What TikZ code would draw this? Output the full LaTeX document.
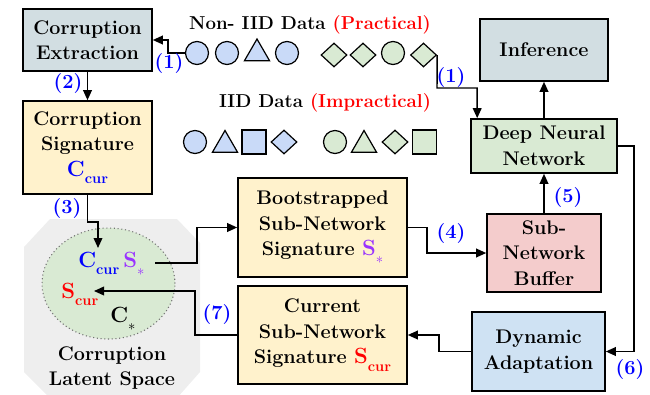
\documentclass[tikz,border=0pt]{standalone}
\usepackage{fontspec}
\usetikzlibrary{arrows.meta,shapes.geometric,calc}
\definecolor{extc}{HTML}{D2DEE2}
\definecolor{yel}{HTML}{FFF2CC}
\definecolor{grn}{HTML}{D9EAD3}
\definecolor{pinkc}{HTML}{F4CCCC}
\definecolor{bluec}{HTML}{CFE2F3}
\definecolor{shb}{HTML}{C9DAF8}
\definecolor{latc}{HTML}{EEEEEE}
\definecolor{lblue}{HTML}{0000FF}
\definecolor{purp}{HTML}{9933FF}
\definecolor{redc}{HTML}{FF0000}
\newcommand{\symsub}[3]{{\color{#3}\fontsize{16.5}{17}\selectfont #1\raisebox{-5.5pt}{\fontsize{11}{11}\selectfont #2}}}
\newcommand{\sstar}{\raisebox{-0.5pt}{\fontsize{11}{11}\selectfont$\ast$}}
\begin{document}
\begin{tikzpicture}[x=0.75pt,y=-0.75pt,
  box/.style={draw, line width=1.2pt, align=center, inner sep=0pt, font=\fontsize{14.8}{19.2}\selectfont\bfseries},
  sz/.style 2 args={minimum width=#1*0.75pt, minimum height=#2*0.75pt},
  arr/.style={draw, line width=1.1pt, -{Triangle[length=7.5pt,width=6.5pt]}},
  lab/.style={text=lblue, font=\fontsize{15}{15}\selectfont\bfseries, inner sep=0pt},
  ttl/.style={font=\fontsize{14}{19}\selectfont\bfseries, inner sep=0pt},
  shp/.style={draw, line width=0.9pt, inner sep=0pt},
  cir/.style={shp, circle, minimum size=23*0.75pt},
  tri/.style={shp, regular polygon, regular polygon sides=3, minimum size=29*0.75pt},
  dia/.style={shp, diamond, minimum width=26*0.75pt, minimum height=24*0.75pt},
  sqr/.style={shp, rectangle, minimum size=24*0.75pt},
  sym/.style={inner sep=0pt, anchor=base west, font=\bfseries}
]
\useasboundingbox (0,0) rectangle (650,394);
\begin{scope}
\clip (0,0) rectangle (650,394);
\fill[latc] (50,219) -- (177,219) -- (200,243) -- (200,372) -- (177,398) -- (50,398) -- (24,372) -- (24,247) -- cycle;
\end{scope}
\node (lat) [ellipse, draw=black!55, dotted, thick, fill=grn, sz={133}{111}, inner sep=0pt] at (108.5,283.5) {};
\node (latt) [ttl, font=\fontsize{14.8}{19.2}\selectfont\bfseries, align=center] at (112,368) {Corruption\\Latent Space};

% boxes
\node (ext) [box, fill=extc, sz={129}{62}] at (87.5,40) {Corruption\\Extraction};
\node (sig) [box, fill=yel, sz={129}{93}] at (87.5,147.5) {Corruption\\Signature\\\symsub{C}{cur}{lblue}};
\node (inf) [box, fill=extc, sz={128}{62}] at (544,50) {Inference};
\node (dnn) [box, fill=grn, sz={146}{54}] at (544,146) {Deep Neural\\Network};
\node (buf) [box, fill=pinkc, sz={114}{78}] at (544,253) {Sub-\\Network\\Buffer};
\node (dyn) [box, fill=bluec, sz={133}{79}] at (538.5,351.5) {Dynamic\\Adaptation};
\node (boot) [box, fill=yel, sz={169}{99}] at (322.5,227.5) {Bootstrapped\\Sub-Network\\Signature \symsub{S}{\sstar}{purp}};
\node (cur) [box, fill=yel, sz={169}{98}] at (322.5,335) {Current\\Sub-Network\\Signature \symsub{S}{cur}{redc}};

% latent symbols
\node (ccur) [sym] at (78,267) {\symsub{C}{cur}{lblue}};
\node (sst) [sym] at (123,267) {\symsub{S}{\sstar}{purp}};
\node (scur) [sym] at (61,298) {\symsub{S}{cur}{redc}};
\node (cst) [sym] at (110,322) {\symsub{C}{\sstar}{black}};

% titles
\node (t1) [ttl] at (310,25) {Non- IID Data {\color{redc}(Practical)}};
\node (t2) [ttl] at (325,103) {IID Data {\color{redc}(Impractical)}};

% row 1 shapes
\node (b1) [cir, fill=shb] at (197,53) {};
\node (b2) [cir, fill=shb] at (227,53) {};
\node (b3) [tri, fill=shb] at (257,53.5) {};
\node (b4) [cir, fill=shb] at (287,53) {};
\node (g1) [dia, fill=grn] at (334,55) {};
\node (g2) [dia, fill=grn] at (363,55) {};
\node (g3) [cir, fill=grn] at (393,53) {};
\node (g4) [dia, fill=grn] at (423.5,55) {};

% row 2 shapes
\node (i1) [cir, fill=shb] at (195,142) {};
\node (i2) [tri, fill=shb] at (225,145) {};
\node (i3) [sqr, fill=shb] at (254,142) {};
\node (i4) [dia, fill=shb] at (284,142) {};
\node (j1) [cir, fill=grn] at (335,142) {};
\node (j2) [tri, fill=grn] at (364,145) {};
\node (j3) [dia, fill=grn] at (395,142) {};
\node (j4) [sqr, fill=grn] at (424.5,142) {};

% connectors
\draw[arr] (b1.west) -- (168,53) |- (ext.east);
\node [lab] at (169,64) {(1)};
\draw[arr] (g4.east) -- (437,88) -| ($(dnn.north west)+(7,0)$);
\node [lab] at (451,78) {(1)};
\draw[arr] (ext.south) -- (sig.north);
\node [lab] at (68,84) {(2)};
\coordinate (c3) at (98,248);
\draw[arr] (sig.south) -- (87.5,222) -| (c3);
\node [lab] at (67,209) {(3)};
\coordinate (sout) at (155,263);
\draw[arr] (sout) -- (197,263) |- (boot.west);
\draw[arr] (boot.east) -- (427,227.5) |- (buf.west);
\node [lab] at (451,234) {(4)};
\draw[arr] (buf.north) -- (dnn.south);
\node [lab] at (568,198) {(5)};
\draw[arr] (dnn.north) -- (inf.south);
\draw[arr] (dnn.east) -- (634,146) |- (dyn.east);
\node [lab] at (630,370) {(6)};
\draw[arr] (dyn.west) -- (439,351.5) |- (cur.east);
\coordinate (sin) at (94,291);
\draw[arr] (cur.west) -- (195,335) |- (sin);
\node [lab] at (217,315) {(7)};
\end{tikzpicture}
\end{document}
